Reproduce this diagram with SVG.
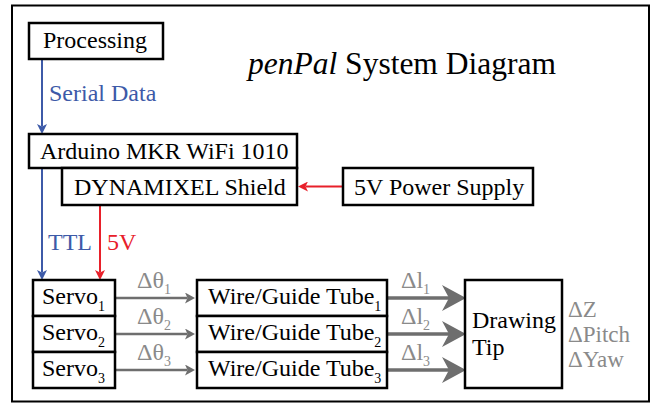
<svg xmlns="http://www.w3.org/2000/svg" width="652" height="404" viewBox="0 0 652 404">
<defs>
<style>
text{font-family:"Liberation Serif","Times New Roman",serif;font-size:24px;fill:#000}
.box{fill:#fff;stroke:#000;stroke-width:2.5}
.blue{fill:#3D5AA8}
.red{fill:#E8202A}
.gl{fill:#8A8A8A}
.sub{font-size:14px}
.title{font-size:31.5px}
.out{font-size:23px}
</style>
<marker id="hb" markerUnits="userSpaceOnUse" markerWidth="10" markerHeight="10" viewBox="0 0 10 10" refX="2.5" refY="5" orient="auto"><path d="M0,0 L10,5 L0,10 L2.5,5 Z" fill="#3D5AA8"/></marker>
<marker id="hr" markerUnits="userSpaceOnUse" markerWidth="10" markerHeight="10" viewBox="0 0 10 10" refX="2.5" refY="5" orient="auto"><path d="M0,0 L10,5 L0,10 L2.5,5 Z" fill="#E8202A"/></marker>
<marker id="hg" markerUnits="userSpaceOnUse" markerWidth="10" markerHeight="11" viewBox="0 0 10 11" refX="2.5" refY="5.5" orient="auto"><path d="M0,0 L10,5.5 L0,11 L2.5,5.5 Z" fill="#6E6E6E"/></marker>
<marker id="hG" markerUnits="userSpaceOnUse" markerWidth="24" markerHeight="26" viewBox="0 0 24 26" refX="7" refY="13" orient="auto"><path d="M0,0 L24,13 L0,26 L7,13 Z" fill="#6E6E6E"/></marker>
</defs>
<rect x="12" y="5.5" width="637" height="396" fill="#fff" stroke="#000" stroke-width="2"/>
<text x="248" y="74" class="title"><tspan font-style="italic">penPal</tspan> System Diagram</text>
<g id="connectors" fill="none">
<line x1="42" y1="59" x2="42" y2="126.5" stroke="#3D5AA8" stroke-width="2" marker-end="url(#hb)"/>
<line x1="42" y1="168" x2="42" y2="272.5" stroke="#3D5AA8" stroke-width="2" marker-end="url(#hb)"/>
<line x1="100" y1="205" x2="100" y2="272.5" stroke="#E8202A" stroke-width="2" marker-end="url(#hr)"/>
<line x1="343" y1="186.5" x2="305.5" y2="186.5" stroke="#E8202A" stroke-width="2" marker-end="url(#hr)"/>
<line x1="115" y1="298" x2="187.5" y2="298" stroke="#6E6E6E" stroke-width="2.5" marker-end="url(#hg)"/>
<line x1="115" y1="334" x2="187.5" y2="334" stroke="#6E6E6E" stroke-width="2.5" marker-end="url(#hg)"/>
<line x1="115" y1="370" x2="187.5" y2="370" stroke="#6E6E6E" stroke-width="2.5" marker-end="url(#hg)"/>
<line x1="387" y1="298" x2="449" y2="298" stroke="#6E6E6E" stroke-width="3.5" marker-end="url(#hG)"/>
<line x1="387" y1="334" x2="449" y2="334" stroke="#6E6E6E" stroke-width="3.5" marker-end="url(#hG)"/>
<line x1="387" y1="370" x2="449" y2="370" stroke="#6E6E6E" stroke-width="3.5" marker-end="url(#hG)"/>
<text x="49" y="101" class="blue">Serial Data</text>
<text x="48" y="250" class="blue">TTL</text>
<text x="107" y="250" class="red">5V</text>
<text x="137" y="288" class="gl">Δθ<tspan class="sub" dy="6">1</tspan></text>
<text x="137" y="324" class="gl">Δθ<tspan class="sub" dy="6">2</tspan></text>
<text x="137" y="360" class="gl">Δθ<tspan class="sub" dy="6">3</tspan></text>
<text x="401" y="288" class="gl">Δl<tspan class="sub" dy="6">1</tspan></text>
<text x="401" y="324" class="gl">Δl<tspan class="sub" dy="6">2</tspan></text>
<text x="401" y="360" class="gl">Δl<tspan class="sub" dy="6">3</tspan></text>
</g>
<g id="processing"><rect class="box" x="29" y="23" width="134" height="36"/><text x="43" y="48">Processing</text></g>
<g id="arduino"><rect class="box" x="29" y="134" width="268" height="34"/><text x="40" y="159">Arduino MKR WiFi 1010</text></g>
<g id="shield"><rect class="box" x="62" y="168" width="235" height="37"/><text x="74" y="195">DYNAMIXEL Shield</text></g>
<g id="power"><rect class="box" x="343" y="168" width="190" height="37"/><text x="354" y="195">5V Power Supply</text></g>
<g id="servo1"><rect class="box" x="33" y="280" width="82" height="36"/><text x="42" y="304">Servo<tspan class="sub" dy="7">1</tspan></text></g>
<g id="servo2"><rect class="box" x="33" y="316" width="82" height="36"/><text x="42" y="340">Servo<tspan class="sub" dy="7">2</tspan></text></g>
<g id="servo3"><rect class="box" x="33" y="352" width="82" height="36"/><text x="42" y="376">Servo<tspan class="sub" dy="7">3</tspan></text></g>
<g id="tube1"><rect class="box" x="197" y="280" width="190" height="36"/><text x="208" y="304">Wire/Guide Tube<tspan class="sub" dy="7">1</tspan></text></g>
<g id="tube2"><rect class="box" x="197" y="316" width="190" height="36"/><text x="208" y="340">Wire/Guide Tube<tspan class="sub" dy="7">2</tspan></text></g>
<g id="tube3"><rect class="box" x="197" y="352" width="190" height="36"/><text x="208" y="376">Wire/Guide Tube<tspan class="sub" dy="7">3</tspan></text></g>
<g id="tip"><rect class="box" x="465" y="280" width="97" height="108"/><text x="472" y="328">Drawing</text><text x="472" y="355">Tip</text></g>
<g id="outputs"><text x="568" y="317" class="gl out">ΔZ</text><text x="568" y="342" class="gl out">ΔPitch</text><text x="568" y="367" class="gl out">ΔYaw</text></g>
</svg>
